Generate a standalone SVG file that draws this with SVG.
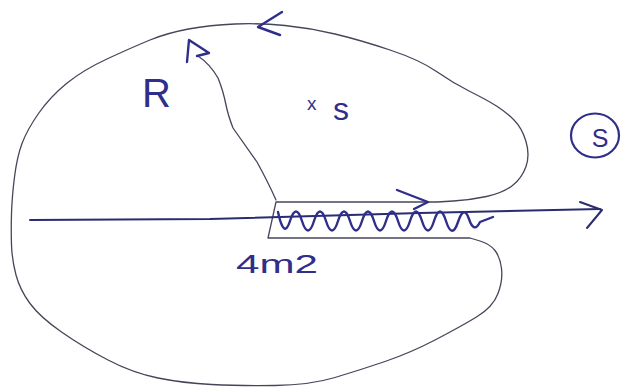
<svg xmlns="http://www.w3.org/2000/svg" width="623" height="387" viewBox="0 0 623 387">
<style>
.pencil{fill:none;stroke:#45465a;stroke-width:1.3;stroke-linejoin:round;stroke-linecap:round}
.ink{fill:none;stroke:#2f2e8a;stroke-width:2.4;stroke-linejoin:round;stroke-linecap:round}
.axis{fill:none;stroke:#2a2c70;stroke-width:2;stroke-linejoin:round;stroke-linecap:round}
.lbl{fill:#2f2e8a;font-family:"Liberation Sans",Arial,sans-serif}
</style>
<rect width="623" height="387" fill="#ffffff"/>
<g id="contour">
<path class="pencil" d="M 276,202 L 437,202 L 453.5,201 Q 470,200 486.5,196.5 Q 503,193 512.5,185.5 Q 522,178 526,166.5 Q 530,155 526,141.5 Q 522,128 514,120 Q 506,112 496.5,106 Q 487,100 470,91.5 Q 453,83 436.5,71.5 Q 420,60 390,50 Q 360,40 335,34 Q 310,28 285,25.5 Q 260,23 235,24 Q 210,25 188.5,29 Q 167,33 150,40 Q 133,47 108,58.5 Q 83,70 66.5,83.5 Q 50,97 38.5,113.5 Q 27,130 22,143.5 Q 17,157 14.5,177 Q 12,197 11.5,213.5 Q 11,230 11.5,245 Q 12,260 16,275 Q 20,290 30,303.5 Q 40,317 61.5,332 Q 83,347 108,360 Q 133,373 158,378 Q 183,383 211.5,384.5 Q 240,386 275,385.5 Q 310,385 335,377.5 Q 360,370 385,361.5 Q 410,353 435,340 Q 460,327 476.5,317 Q 493,307 498,293.5 Q 503,280 501.5,268.5 Q 500,257 495,250.5 Q 490,244 480,241 L 470,238 L 268,238 Z"/>
</g>
<g id="radius">
<path class="pencil" d="M 276,200 Q 268,182 257,162 Q 245,145 233,128 Q 228,115 226,105 Q 223,90 218,78 Q 210,64 198,56"/>
<path class="ink" d="M 187,62 L 189,40 L 209,53 L 197,56"/>
</g>
<g id="orientation">
<path class="ink" d="M 282,12 L 258,27 L 280,35"/>
</g>
<g id="axis">
<path class="axis" d="M 30,220 L 210,219 L 420,213 L 600,209"/>
<path class="axis" d="M 580,202 L 602,210 L 587,228"/>
</g>
<g id="branch-cut">
<path class="ink" d="M 278,212 Q 284,240 290,221 Q 296,202 302,221 Q 308,240 314,221 Q 320,202 326,221 Q 332,240 338,221 Q 344,202 350,221 Q 356,240 362,221 Q 368,202 374,221 Q 380,240 386,221 Q 392,202 398,221 Q 404,240 410,221 Q 416,202 422,221 Q 428,240 434,221 Q 440,202 446,221 Q 452,240 458,222 Q 464,204 469,219 Q 474,234 480,222 L 493,217"/>
<path class="ink" d="M 397,190 L 428,202 L 414,209"/>
</g>
<g id="labels">
<text class="lbl" x="142" y="107" font-size="40">R</text>
<text class="lbl" x="307" y="110" font-size="19">x</text>
<text class="lbl" x="333" y="120" font-size="32">s</text>
<text class="lbl" x="236" y="273" font-size="25" textLength="82" lengthAdjust="spacingAndGlyphs">4m2</text>
</g>
<g id="sheet">
<ellipse cx="595" cy="135.5" rx="24" ry="22" fill="none" stroke="#2f2e8a" stroke-width="2.2"/>
<text class="lbl" x="600" y="147" font-size="25" text-anchor="middle">S</text>
</g>
</svg>
